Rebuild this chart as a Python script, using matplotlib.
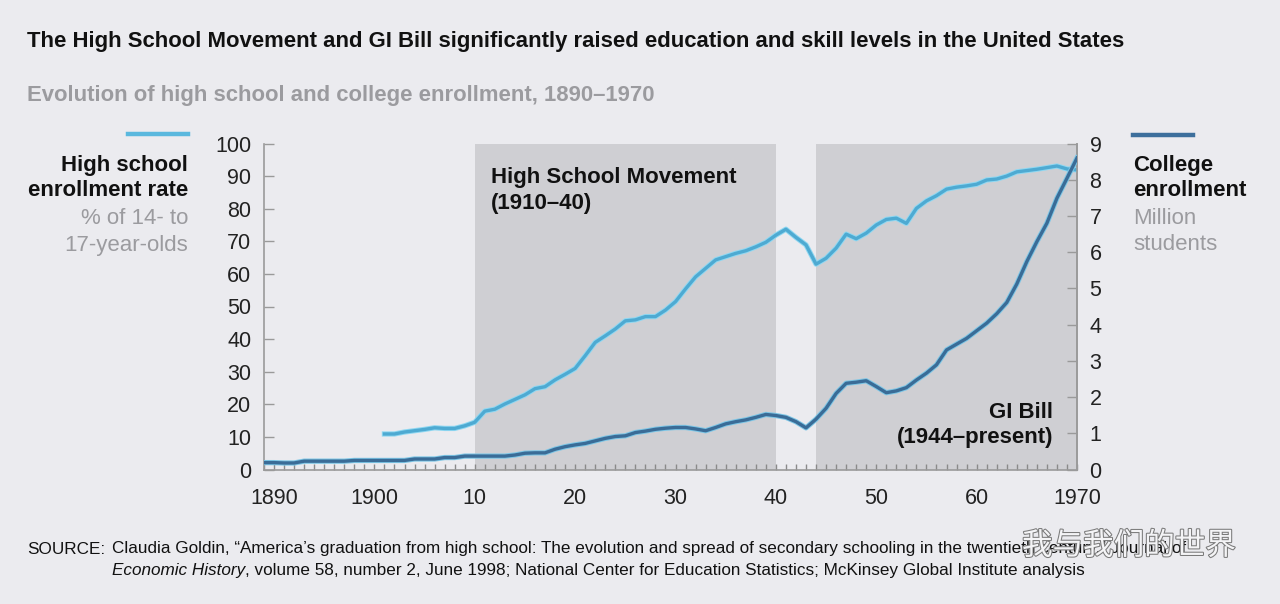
import matplotlib
matplotlib.use("Agg")
import matplotlib.pyplot as plt
import matplotlib.patheffects as pe
from matplotlib.ticker import MultipleLocator

# ---------------- data ----------------
hs_years = list(range(1901, 1971))
hs_rate = [10.9, 10.9, 11.5, 11.9, 12.3, 12.8, 12.6, 12.6, 13.4, 14.5,
           17.9, 18.5, 20.1, 21.5, 22.9, 24.8, 25.4, 27.5, 29.2, 31.0,
           34.9, 39.0, 41.0, 43.1, 45.6, 45.9, 46.9, 46.9, 48.9, 51.5,
           55.4, 59.1, 61.7, 64.3, 65.3, 66.3, 67.1, 68.3, 69.7, 71.9,
           73.7, 71.2, 68.9, 63.0, 64.8, 67.9, 72.2, 70.8, 72.5, 75.0,
           76.7, 77.1, 75.5, 80.1, 82.4, 84.0, 86.0, 86.6, 87.0, 87.5,
           88.8, 89.1, 90.0, 91.3, 91.7, 92.1, 92.6, 93.1, 92.2, 91.9]

col_years = list(range(1889, 1971))
col_enroll = [0.19, 0.19, 0.18, 0.18, 0.23, 0.23, 0.23, 0.23, 0.23, 0.25,
              0.25, 0.25, 0.25, 0.25, 0.25, 0.29, 0.29, 0.29, 0.33, 0.33,
              0.37, 0.37, 0.37, 0.37, 0.37, 0.40, 0.45, 0.46, 0.46, 0.56,
              0.63, 0.68, 0.72, 0.79, 0.86, 0.91, 0.93, 1.02, 1.06, 1.11,
              1.14, 1.16, 1.16, 1.12, 1.07, 1.16, 1.26, 1.32, 1.37, 1.44,
              1.52, 1.49, 1.44, 1.32, 1.15, 1.39, 1.69, 2.10, 2.38, 2.41,
              2.45, 2.29, 2.12, 2.17, 2.26, 2.47, 2.66, 2.89, 3.30, 3.46,
              3.62, 3.83, 4.04, 4.30, 4.61, 5.12, 5.74, 6.29, 6.80, 7.49,
              8.04, 8.60]

periods = [(1910, 1940), (1944, 1970)]
x_ticks = [1890, 1900, 1910, 1920, 1930, 1940, 1950, 1960, 1970]
x_tick_labels = ["1890", "1900", "10", "20", "30", "40", "50", "60", "1970"]
left_ticks = list(range(0, 101, 10))
right_ticks = list(range(0, 10))

# ---------------- style ----------------
BG = "#ebebef"
SHADE = "#cfcfd3"
HS_COL = "#4eaad2"
COL_COL = "#3a6c97"
SPINE = "#9a9a9a"
GRAY_TXT = "#9b9b9f"
FONT = "Liberation Sans"

plt.rcParams["font.family"] = [FONT, "DejaVu Sans"]

W, H = 1280, 604
fig = plt.figure(figsize=(W / 100, H / 100), dpi=100)
fig.patch.set_facecolor(BG)


def P(x, y):
    return x / W, 1 - y / H


left, right, top, bottom = 264, 1077, 143.5, 469.5
ax = fig.add_axes([left / W, 1 - bottom / H, (right - left) / W, (bottom - top) / H])
ax.set_facecolor(BG)
ax.set_xlim(1889, 1970)
ax.set_ylim(0, 100)

for a, b in periods:
    ax.axvspan(a, b, color=SHADE, lw=0, zorder=0)

ax2 = ax.twinx()
ax2.set_ylim(0, 9)

halo_hs = [pe.Stroke(linewidth=3.8, foreground="#8fd8f2"), pe.Normal()]
halo_col = [pe.Stroke(linewidth=3.8, foreground="#7cc6e6"), pe.Normal()]
ax.plot(hs_years, hs_rate, color=HS_COL, lw=2.4, zorder=3,
        solid_joinstyle="round", path_effects=halo_hs)
ax2.plot(col_years, col_enroll, color=COL_COL, lw=2.4, zorder=3,
         solid_joinstyle="round", path_effects=halo_col)

for a in (ax, ax2):
    for s in a.spines.values():
        s.set_color(SPINE)
        s.set_linewidth(1.2)
    a.spines["top"].set_visible(False)

ax.set_xticks(x_ticks)
ax.set_xticklabels(x_tick_labels)
ax.xaxis.set_minor_locator(MultipleLocator(1))
ax.tick_params(axis="x", which="both", direction="in", length=4.5, width=1,
               color="#8a8a8a", pad=13, labelsize=15.5, labelcolor="#222222")
ax.set_yticks(left_ticks)
ax.tick_params(axis="y", direction="in", length=7, width=1, color=SPINE,
               pad=9, labelsize=15.5, labelcolor="#222222")
ax2.set_yticks(right_ticks)
ax2.tick_params(axis="y", direction="in", length=7, width=1, color=SPINE,
                pad=9, labelsize=15.5, labelcolor="#222222")
ax2.spines["left"].set_visible(False)
ax2.spines["bottom"].set_visible(False)

# ---------------- texts ----------------
BLK = "#111111"
LS = 16
fig.text(*P(27, 41), "The High School Movement and GI Bill significantly raised education and skill levels in the United States",
         fontsize=15.9, fontweight="bold", color=BLK, va="center", ha="left")
fig.text(*P(27, 95), "Evolution of high school and college enrollment, 1890\u20131970",
         fontsize=15.9, fontweight="bold", color=GRAY_TXT, va="center", ha="left")

# left legend
fig.add_artist(plt.Line2D([128 / W, 188 / W], [1 - 134 / H, 1 - 134 / H], color="#5ab8de", lw=3.2))
fig.text(*P(188, 165), "High school", fontsize=LS, fontweight="bold", color=BLK, ha="right", va="center")
fig.text(*P(188, 191), "enrollment rate", fontsize=LS, fontweight="bold", color=BLK, ha="right", va="center")
fig.text(*P(188, 218), "% of 14- to", fontsize=LS, color=GRAY_TXT, ha="right", va="center")
fig.text(*P(188, 245), "17-year-olds", fontsize=LS, color=GRAY_TXT, ha="right", va="center")

# right legend
fig.add_artist(plt.Line2D([1133 / W, 1193 / W], [1 - 135 / H, 1 - 135 / H], color="#3d6f9c", lw=3.2))
fig.text(*P(1133, 165), "College", fontsize=LS, fontweight="bold", color=BLK, ha="left", va="center")
fig.text(*P(1133, 191), "enrollment", fontsize=LS, fontweight="bold", color=BLK, ha="left", va="center")
fig.text(*P(1133, 218), "Million", fontsize=LS, color=GRAY_TXT, ha="left", va="center")
fig.text(*P(1133, 245), "students", fontsize=LS, color=GRAY_TXT, ha="left", va="center")

# period annotations
fig.text(*P(491, 177), "High School Movement", fontsize=LS, fontweight="bold", color=BLK, ha="left", va="center")
fig.text(*P(491, 203), "(1910\u201340)", fontsize=LS, fontweight="bold", color=BLK, ha="left", va="center")
fig.text(*P(1053, 412), "GI Bill", fontsize=LS, fontweight="bold", color=BLK, ha="right", va="center")
fig.text(*P(1053, 438), "(1944\u2013present)", fontsize=LS, fontweight="bold", color=BLK, ha="right", va="center")

# source
SS = 12.3
fig.text(*P(27, 549), "SOURCE:", fontsize=SS, color=BLK, ha="left", va="center")
fig.text(*P(112, 549), "Claudia Goldin, \u201cAmerica\u2019s graduation from high school: The evolution and spread of secondary schooling in the twentieth century,\u201d Journal of",
         fontsize=SS, color=BLK, ha="left", va="center")
t1 = fig.text(*P(112, 571), "Economic History", fontsize=SS, style="italic", color=BLK, ha="left", va="center")
fig.canvas.draw()
bb = t1.get_window_extent(renderer=fig.canvas.get_renderer())
fig.text(bb.x1 / W, 1 - 571 / H, ", volume 58, number 2, June 1998; National Center for Education Statistics; McKinsey Global Institute analysis",
         fontsize=SS, color=BLK, ha="left", va="center")

# watermark
fig.text(*P(1022, 546), "\u6211\u4e0e\u6211\u4eec\u7684\u4e16\u754c", fontsize=22, color="#f4f4f6",
         family=["Noto Sans CJK SC", "DejaVu Sans"], ha="left", va="center",
         path_effects=[pe.withStroke(linewidth=1.5, foreground="#7a7a7a")])

fig.savefig("out.png", dpi=100, facecolor=BG)
